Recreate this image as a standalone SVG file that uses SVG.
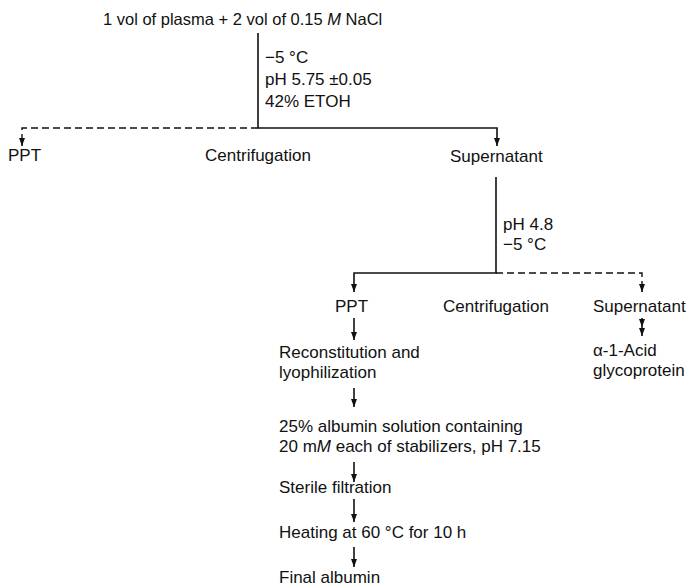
<svg xmlns="http://www.w3.org/2000/svg" width="693" height="586" viewBox="0 0 693 586">
<style>
text{font-family:"Liberation Sans",Arial,sans-serif;font-size:17px;fill:#111}
.t{font-size:16.5px}
.c{text-anchor:middle}
.l{stroke:#111;stroke-width:1.6;fill:none}
.d{stroke:#111;stroke-width:1.4;fill:none;stroke-dasharray:7 4}
</style>
<defs>
<marker id="ah" viewBox="0 0 8 6" refX="8" refY="3" markerWidth="8" markerHeight="6" markerUnits="userSpaceOnUse" orient="auto">
<path d="M0,0 L8,3 L0,6 Z" fill="#111"/>
</marker>
</defs>
<rect width="693" height="586" fill="#fff"/>
<g id="connectors">
<path class="l" d="M258,33 V128 H497 V146" marker-end="url(#ah)"/>
<path class="d" d="M258,128 H22 V140"/>
<path class="l" d="M22,138 V146" marker-end="url(#ah)"/>
<path class="l" d="M496,177 V273 H354 V292" marker-end="url(#ah)"/>
<path class="d" d="M496,273 H642 V286"/>
<path class="l" d="M642,284 V292" marker-end="url(#ah)"/>
<path class="l" d="M642,318 V327 V336" marker-mid="url(#ah)" marker-end="url(#ah)"/>
<path class="l" d="M354,318 V340" marker-end="url(#ah)"/>
<path class="l" d="M354,388 V407" marker-end="url(#ah)"/>
<path class="l" d="M354,462 V482" marker-end="url(#ah)"/>
<path class="l" d="M354,499 V522" marker-end="url(#ah)"/>
<path class="l" d="M354,547 V567" marker-end="url(#ah)"/>
</g>
<g id="start"><text class="t" x="103" y="25">1 vol of plasma + 2 vol of 0.15 <tspan font-style="italic">M</tspan> NaCl</text></g>
<g id="cond1"><text x="265" y="63">−5 °C</text><text x="265" y="85">pH 5.75 ±0.05</text><text x="265" y="107">42% ETOH</text></g>
<g id="ppt1"><text x="8" y="161">PPT</text></g>
<g id="centrifugation1"><text class="c" x="258" y="161">Centrifugation</text></g>
<g id="supernatant1"><text x="450" y="162">Supernatant</text></g>
<g id="cond2"><text x="503" y="230">pH 4.8</text><text x="503" y="250">−5 °C</text></g>
<g id="ppt2"><text x="335" y="312">PPT</text></g>
<g id="centrifugation2"><text class="c" x="496" y="312">Centrifugation</text></g>
<g id="supernatant2"><text x="593" y="312">Supernatant</text></g>
<g id="glyco"><text x="593" y="356">α-1-Acid</text><text x="593" y="376">glycoprotein</text></g>
<g id="recon"><text x="279" y="358">Reconstitution and</text><text x="279" y="378">lyophilization</text></g>
<g id="solution"><text x="279" y="432">25% albumin solution containing</text><text x="279" y="452">20 m<tspan font-style="italic">M</tspan> each of stabilizers, pH 7.15</text></g>
<g id="filtration"><text x="279" y="493">Sterile filtration</text></g>
<g id="heating"><text x="279" y="538">Heating at 60 °C for 10 h</text></g>
<g id="final"><text x="279" y="583">Final albumin</text></g>
</svg>
